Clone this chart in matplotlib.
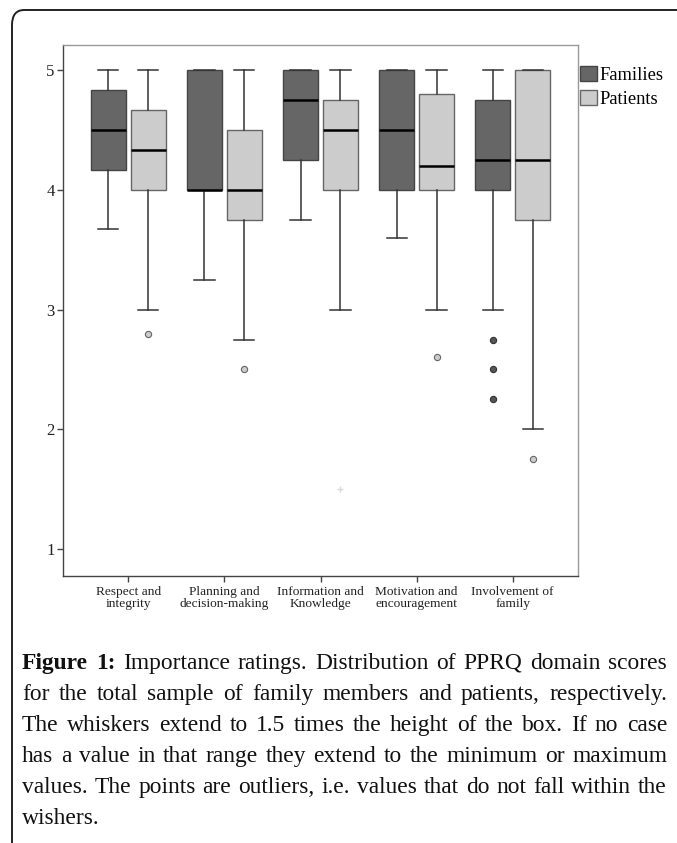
import matplotlib
matplotlib.use("Agg")
import matplotlib.pyplot as plt
from matplotlib.patches import Patch, FancyBboxPatch

# Data (PPRQ importance ratings)
domains = ["Respect and\nintegrity", "Planning and\ndecision-making", "Information and\nKnowledge",
           "Motivation and\nencouragement", "Involvement of\nfamily"]

fam_low = [3.67, 3.25, 3.75, 3.6, 3.0]
fam_q1 = [4.17, 4.0, 4.25, 4.0, 4.0]
fam_med = [4.5, 4.0, 4.75, 4.5, 4.25]
fam_q3 = [4.83, 5.0, 5.0, 5.0, 4.75]
fam_high = [5.0, 5.0, 5.0, 5.0, 5.0]
fam_out = [[], [], [], [], [2.75, 2.5, 2.25]]

pat_low = [3.0, 2.75, 3.0, 3.0, 2.0]
pat_q1 = [4.0, 3.75, 4.0, 4.0, 3.75]
pat_med = [4.33, 4.0, 4.5, 4.2, 4.25]
pat_q3 = [4.67, 4.5, 4.75, 4.8, 5.0]
pat_high = [5.0, 5.0, 5.0, 5.0, 5.0]
pat_out = [[2.8], [2.5], [], [2.6], [1.75]]
pat_extreme = [[], [], [1.5], [], []]

caption_lines = [
    "Importance ratings. Distribution of PPRQ domain scores",
    "for the total sample of family members and patients, respectively.",
    "The whiskers extend to 1.5 times the height of the box. If no case",
    "has a value in that range they extend to the minimum or maximum",
    "values. The points are outliers, i.e. values that do not fall within the",
    "wishers.",
]

FAM_COLOR = "#666666"
PAT_COLOR = "#cccccc"
SERIF = "Liberation Serif"


def make_stats(low, q1, med, q3, high, out):
    return [{"whislo": a, "q1": b, "med": c, "q3": d, "whishi": e, "fliers": f}
            for a, b, c, d, e, f in zip(low, q1, med, q3, high, out)]


fig = plt.figure(figsize=(6.77, 8.43), dpi=100)

# outer frame, only the top-left rounded corner shows
frame = FancyBboxPatch((12 / 677, -0.1), 1.2, 0.1 + (843 - 10) / 843,
                       boxstyle="round,pad=0,rounding_size=0.018",
                       transform=fig.transFigure, fill=False,
                       edgecolor="#222222", linewidth=1.4, clip_on=False)
fig.patches.append(frame)

ax = fig.add_axes([63 / 677, 1 - 576 / 843, 515 / 677, 531 / 843])

pos = list(range(len(domains)))
off = 0.208
bw = 0.37

box_common = dict(widths=bw, capwidths=0.21, patch_artist=True, showfliers=True,
                  medianprops=dict(color="black", linewidth=1.8),
                  whiskerprops=dict(color="#333333", linewidth=1.1),
                  capprops=dict(color="#333333", linewidth=1.1))

ax.bxp(make_stats(fam_low, fam_q1, fam_med, fam_q3, fam_high, fam_out),
       positions=[p - off for p in pos],
       boxprops=dict(facecolor=FAM_COLOR, edgecolor="#444444", linewidth=1.0),
       flierprops=dict(marker="o", markersize=4.5, markerfacecolor="#555555",
                       markeredgecolor="#333333", markeredgewidth=0.8),
       **box_common)
ax.bxp(make_stats(pat_low, pat_q1, pat_med, pat_q3, pat_high, pat_out),
       positions=[p + off for p in pos],
       boxprops=dict(facecolor=PAT_COLOR, edgecolor="#666666", linewidth=1.0),
       flierprops=dict(marker="o", markersize=4.5, markerfacecolor="#cccccc",
                       markeredgecolor="#666666", markeredgewidth=0.8),
       **box_common)

for p, vals in zip(pos, pat_extreme):
    if vals:
        ax.plot([p + off] * len(vals), vals, linestyle="none", marker="+",
                markersize=5, color="#d8d8d8", markeredgewidth=1.0)

ax.set_xlim(-0.68, len(domains) - 1 + 0.68)
ax.set_ylim(0.775, 5.21)
ax.set_xticks(pos)
ax.set_xticklabels(domains, fontsize=9.6, family=SERIF, linespacing=1.05, color="#222222")
ax.set_yticks([1, 2, 3, 4, 5])
ax.set_yticklabels(["1", "2", "3", "4", "5"], fontsize=12, family=SERIF, color="#222222")
ax.tick_params(axis="both", direction="out", length=4, width=1.0, color="#444444")
ax.tick_params(axis="x", pad=3)
ax.tick_params(axis="y", pad=2)
for side in ["left", "bottom"]:
    ax.spines[side].set_color("#444444")
    ax.spines[side].set_linewidth(1.0)
for side in ["top", "right"]:
    ax.spines[side].set_color("#999999")
    ax.spines[side].set_linewidth(1.0)

handles = [Patch(facecolor=FAM_COLOR, edgecolor="#444444", label="Families"),
           Patch(facecolor=PAT_COLOR, edgecolor="#666666", label="Patients")]
fig.legend(handles=handles, loc="upper left", bbox_to_anchor=(580 / 677, 1 - 66 / 843),
           frameon=False, prop={"family": SERIF, "size": 13.3}, handlelength=0.9,
           handleheight=0.9, handletextpad=0.15, labelspacing=0.3, borderpad=0,
           borderaxespad=0)

# caption, justified by hand like the journal layout
fig.canvas.draw()
renderer = fig.canvas.get_renderer()
x0, x1 = 22, 667
line_h = 31
y_base = 669


def word_width(txt, bold, size):
    t = fig.text(0, 0, txt, fontsize=size, family=SERIF,
                 fontweight="bold" if bold else "normal")
    w = t.get_window_extent(renderer).width
    t.remove()
    return w


def line_words(i, line):
    words = [(w, False) for w in line.split()]
    if i == 0:
        words = [("Figure", True), ("1:", True)] + words
    return words


# pick the caption size so the widest line fills the column with plain spaces
base = 14
sp = word_width("a b", False, base) - word_width("ab", False, base)
fits = []
for i, line in enumerate(caption_lines[:-1]):
    words = line_words(i, line)
    natural = sum(word_width(w, b, base) for w, b in words) + sp * (len(words) - 1)
    fits.append(base * (x1 - x0) / natural)
cap_size = min(fits) * 0.985

space_w = word_width("a b", False, cap_size) - word_width("ab", False, cap_size)

for i, line in enumerate(caption_lines):
    words = line_words(i, line)
    widths = [word_width(w, b, cap_size) for w, b in words]
    last = i == len(caption_lines) - 1
    if last or len(words) == 1:
        gap = space_w
    else:
        gap = (x1 - x0 - sum(widths)) / (len(words) - 1)
    x = x0
    y = 1 - (y_base + i * line_h) / 843
    for (w, b), wd in zip(words, widths):
        fig.text(x / 677, y, w, fontsize=cap_size, family=SERIF, va="baseline",
                 fontweight="bold" if b else "normal", color="#111111")
        x += wd + gap

fig.savefig("out.png", dpi=100)
